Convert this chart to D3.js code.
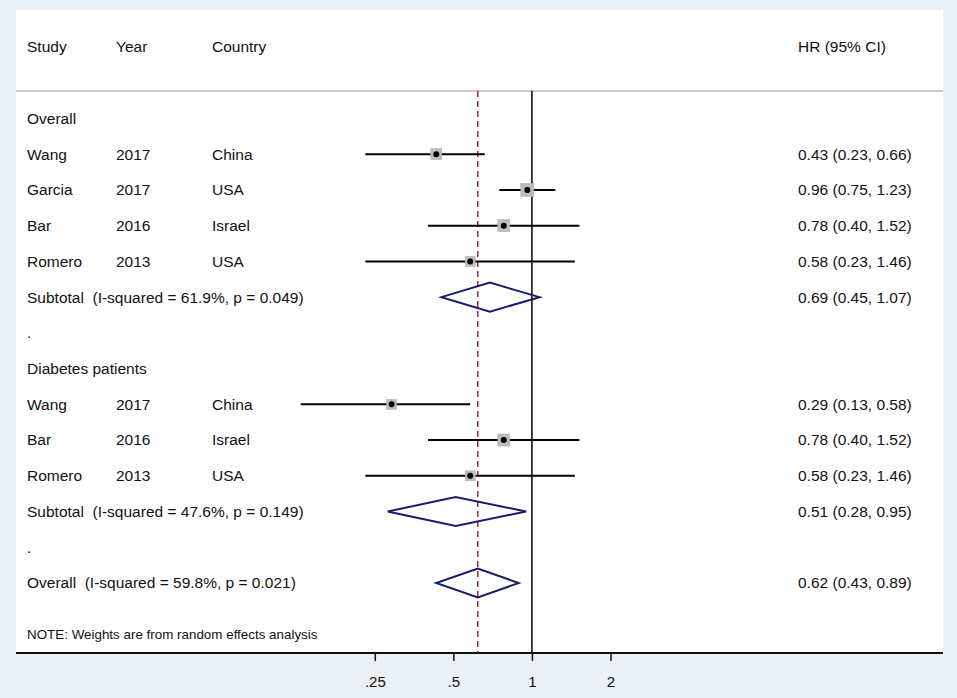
<!DOCTYPE html>
<html><head><meta charset="utf-8">
<script src="https://cdn.jsdelivr.net/npm/d3@7"></script>
<style>
html,body{margin:0;padding:0;background:#eaf0f3;}
svg{display:block;font-family:"Liberation Sans",Arial,sans-serif;}
text{white-space:pre;}
</style></head><body>
<svg id="c" width="957" height="698"></svg>
<script>
// ---- data ----
const rowLabels = ["Study","","Overall","Wang","Garcia","Bar","Romero","Subtotal  (I-squared = 61.9%, p = 0.049)",".","Diabetes patients","Wang","Bar","Romero","Subtotal  (I-squared = 47.6%, p = 0.149)",".","Overall  (I-squared = 59.8%, p = 0.021)"];
const rowYears   = ["Year","","","2017","2017","2016","2013","","","","2017","2016","2013","","",""];
const rowCountry = ["Country","","","China","USA","Israel","USA","","","","China","Israel","USA","","",""];
const rowEst     = ["HR (95% CI)","","","0.43 (0.23, 0.66)","0.96 (0.75, 1.23)","0.78 (0.40, 1.52)","0.58 (0.23, 1.46)","0.69 (0.45, 1.07)","","","0.29 (0.13, 0.58)","0.78 (0.40, 1.52)","0.58 (0.23, 1.46)","0.51 (0.28, 0.95)","","0.62 (0.43, 0.89)"];

// study rows (index into rows)
const studyRows = [3,4,5,6,10,11,12];
const studyHR   = [0.43,0.96,0.78,0.58,0.29,0.78,0.58];
const studyLo   = [0.23,0.75,0.40,0.23,0.13,0.40,0.23];
const studyHi   = [0.66,1.23,1.52,1.46,0.58,1.52,1.46];
const studyWt   = [11,13,12,10,10,12,10];   // relative weight (box size)

// pooled rows
const poolRows = [7,13,15];
const poolHR   = [0.69,0.51,0.62];
const poolLo   = [0.45,0.28,0.43];
const poolHi   = [1.07,0.95,0.89];

const overallHR = 0.62;
const tickVals = [0.25,0.5,1,2];
const tickLabels = [".25",".5","1","2"];
const note = "NOTE: Weights are from random effects analysis";

// ---- layout ----
const svg = d3.select("#c");
const panel = {x0:16, x1:943, y0:10, y1:653};
svg.append("rect").attr("x",panel.x0).attr("y",panel.y0)
  .attr("width",panel.x1-panel.x0).attr("height",panel.y1-panel.y0).attr("fill","#fff");

const x = d3.scaleLog().base(2).domain([0.25,2]).range([374.8,610.5]);
const y = d3.scaleLinear().domain([0,15]).range([47,583]);

// header separator
svg.append("line").attr("x1",panel.x0).attr("x2",panel.x1).attr("y1",91).attr("y2",91)
  .attr("stroke","#b8b8b8").attr("stroke-width",1.5);

// null line and overall dashed line
svg.append("line").attr("x1",x(1)).attr("x2",x(1)).attr("y1",91).attr("y2",panel.y1)
  .attr("stroke","#000").attr("stroke-width",1.5);
svg.append("line").attr("x1",x(overallHR)).attr("x2",x(overallHR)).attr("y1",91).attr("y2",panel.y1)
  .attr("stroke","#a3283a").attr("stroke-width",1.5).attr("stroke-dasharray","6,4");

// text columns
const rows = d3.range(rowLabels.length);
const tg = svg.append("g").attr("font-size",15.5).attr("fill","#111");
function col(arr, xpos){
  tg.selectAll(null).data(rows.filter(i=>arr[i]!=="")).enter().append("text")
    .attr("x",xpos).attr("y",i=>y(i)).attr("dy","0.35em").text(i=>arr[i]);
}
col(rowLabels,27); col(rowYears,116); col(rowCountry,212); col(rowEst,798);

// study CIs
const sg = svg.append("g");
sg.selectAll("line.ci").data(studyRows).enter().append("line")
  .attr("x1",(r,i)=>x(studyLo[i])).attr("x2",(r,i)=>x(studyHi[i]))
  .attr("y1",r=>y(r)).attr("y2",r=>y(r)).attr("stroke","#000").attr("stroke-width",2);
sg.selectAll("rect.box").data(studyRows).enter().append("rect")
  .attr("x",(r,i)=>x(studyHR[i])-studyWt[i]/2).attr("y",(r,i)=>y(r)-studyWt[i]/2)
  .attr("width",(r,i)=>studyWt[i]).attr("height",(r,i)=>studyWt[i])
  .attr("fill","#bdbdbd").attr("stroke","#aaa").attr("stroke-width",0.5);
sg.selectAll("circle").data(studyRows).enter().append("circle")
  .attr("cx",(r,i)=>x(studyHR[i])).attr("cy",r=>y(r)).attr("r",3).attr("fill","#000");

// diamonds
svg.append("g").selectAll("path").data(poolRows).enter().append("path")
  .attr("d",(r,i)=>{const yy=y(r),h=14.5;
    return `M${x(poolLo[i])},${yy}L${x(poolHR[i])},${yy-h}L${x(poolHi[i])},${yy}L${x(poolHR[i])},${yy+h}Z`;})
  .attr("fill","none").attr("stroke","#1b1b6b").attr("stroke-width",2);

// note
svg.append("text").attr("x",27).attr("y",634).attr("dy","0.35em").attr("font-size",13.4)
  .attr("fill","#111").text(note);

// x axis
const ax = svg.append("g").attr("transform",`translate(0,${panel.y1})`);
ax.append("line").attr("x1",panel.x0).attr("x2",panel.x1).attr("stroke","#111").attr("stroke-width",2.2);
ax.call(g=>{
  const axis = d3.axisBottom(x).tickValues(tickVals).tickFormat((d,i)=>tickLabels[i]).tickSize(8).tickPadding(15);
  const a = g.append("g").call(axis);
  a.select(".domain").remove();
  a.selectAll(".tick line").attr("stroke","#111").attr("stroke-width",1.5);
  a.selectAll(".tick text").attr("font-size",15).attr("fill","#111").attr("font-family","Liberation Sans, Arial, sans-serif");
});
</script>
</body></html>
